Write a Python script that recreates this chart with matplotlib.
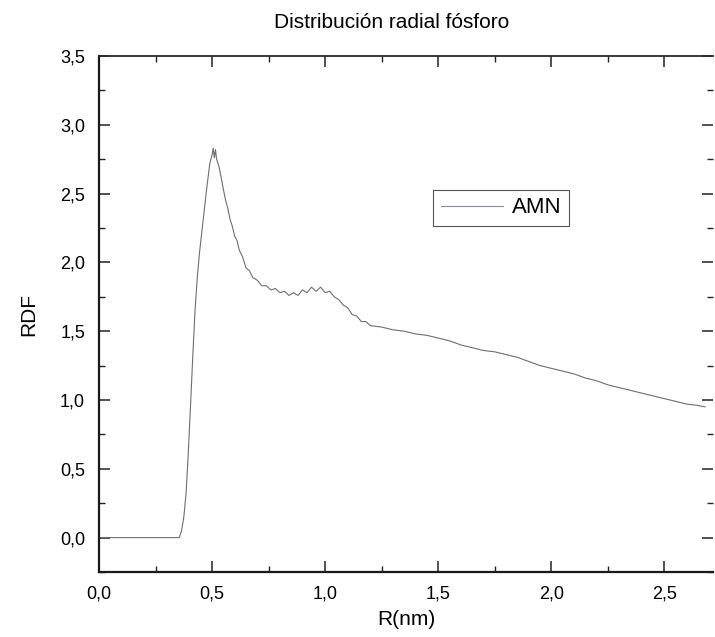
import matplotlib
matplotlib.use("Agg")
import matplotlib.pyplot as plt
from matplotlib.ticker import MultipleLocator, FuncFormatter

plt.rcParams["font.family"] = ["Liberation Sans", "DejaVu Sans"]

# Radial distribution function of phosphorus, r in nm
r_nm = [0.00, 0.34, 0.355, 0.365, 0.375, 0.385, 0.395, 0.405, 0.415, 0.425,
        0.435, 0.445, 0.46, 0.475, 0.49, 0.50, 0.505, 0.51, 0.515, 0.52,
        0.53, 0.54, 0.55, 0.56, 0.57, 0.58, 0.59, 0.60, 0.61, 0.62,
        0.635, 0.65, 0.665, 0.68, 0.70, 0.72, 0.74, 0.76, 0.78, 0.80,
        0.82, 0.84, 0.86, 0.88, 0.90, 0.92, 0.94, 0.96, 0.98, 1.00,
        1.02, 1.04, 1.06, 1.08, 1.10, 1.12, 1.14, 1.16, 1.18, 1.20,
        1.25, 1.30, 1.35, 1.40, 1.45, 1.50, 1.55, 1.60, 1.65, 1.70,
        1.75, 1.80, 1.85, 1.90, 1.95, 2.00, 2.05, 2.10, 2.15, 2.20,
        2.25, 2.30, 2.35, 2.40, 2.45, 2.50, 2.55, 2.60, 2.65, 2.68]
rdf = [0.00, 0.00, 0.00, 0.05, 0.15, 0.32, 0.62, 0.97, 1.33, 1.66,
       1.90, 2.08, 2.30, 2.52, 2.72, 2.78, 2.83, 2.76, 2.82, 2.75,
       2.70, 2.62, 2.53, 2.45, 2.39, 2.31, 2.26, 2.19, 2.16, 2.09,
       2.04, 1.96, 1.94, 1.89, 1.87, 1.83, 1.83, 1.80, 1.81, 1.78,
       1.79, 1.76, 1.78, 1.76, 1.80, 1.78, 1.82, 1.79, 1.82, 1.78,
       1.79, 1.75, 1.73, 1.69, 1.67, 1.62, 1.61, 1.57, 1.57, 1.54,
       1.53, 1.51, 1.50, 1.48, 1.47, 1.45, 1.43, 1.40, 1.38, 1.36,
       1.35, 1.33, 1.31, 1.28, 1.25, 1.23, 1.21, 1.19, 1.16, 1.14,
       1.11, 1.09, 1.07, 1.05, 1.03, 1.01, 0.99, 0.97, 0.96, 0.95]
series_label = "AMN"

fig = plt.figure(figsize=(7.15, 6.37), dpi=100)
ax = fig.add_axes([99 / 715, 1 - 572 / 637, 614 / 715, 516 / 637])

ax.plot(r_nm, rdf, color="#6e6e6e", lw=0.8, label=series_label)

ax.set_xlim(0, 2.715)
ax.set_ylim(-0.25, 3.5)

ax.xaxis.set_major_locator(MultipleLocator(0.5))
ax.xaxis.set_minor_locator(MultipleLocator(0.25))
ax.yaxis.set_major_locator(MultipleLocator(0.5))
ax.yaxis.set_minor_locator(MultipleLocator(0.25))
comma = FuncFormatter(lambda v, p: f"{v:.1f}".replace(".", ","))
ax.xaxis.set_major_formatter(comma)
ax.yaxis.set_major_formatter(comma)

ax.tick_params(which="both", direction="in", top=True, right=True,
               color="#222222", labelsize=13)
ax.tick_params(which="major", length=8, width=1.1, pad=10)
ax.tick_params(which="minor", length=4, width=1.0)

for side in ("left", "bottom"):
    ax.spines[side].set_linewidth(1.6)
    ax.spines[side].set_color("#1a1a1a")
ax.spines["top"].set_linewidth(1.3)
ax.spines["top"].set_color("#2a2a2a")
ax.spines["right"].set_visible(False)

ax.set_xlabel("R(nm)", fontsize=15, labelpad=5)
ax.set_ylabel("RDF", fontsize=15, labelpad=16)

fig.text(392 / 715, 1 - 22 / 637, "Distribución radial fósforo",
         ha="center", va="center", fontsize=15)

leg = ax.legend(loc="upper left", bbox_to_anchor=(0.544, 0.741),
                borderaxespad=0, fancybox=False, framealpha=1,
                edgecolor="#555555", fontsize=16, handlelength=2.8,
                borderpad=0.35, handletextpad=0.4)
leg.get_frame().set_linewidth(0.8)
leg.get_lines()[0].set_color("#8a8a9a")

fig.savefig("out.png", dpi=100)
